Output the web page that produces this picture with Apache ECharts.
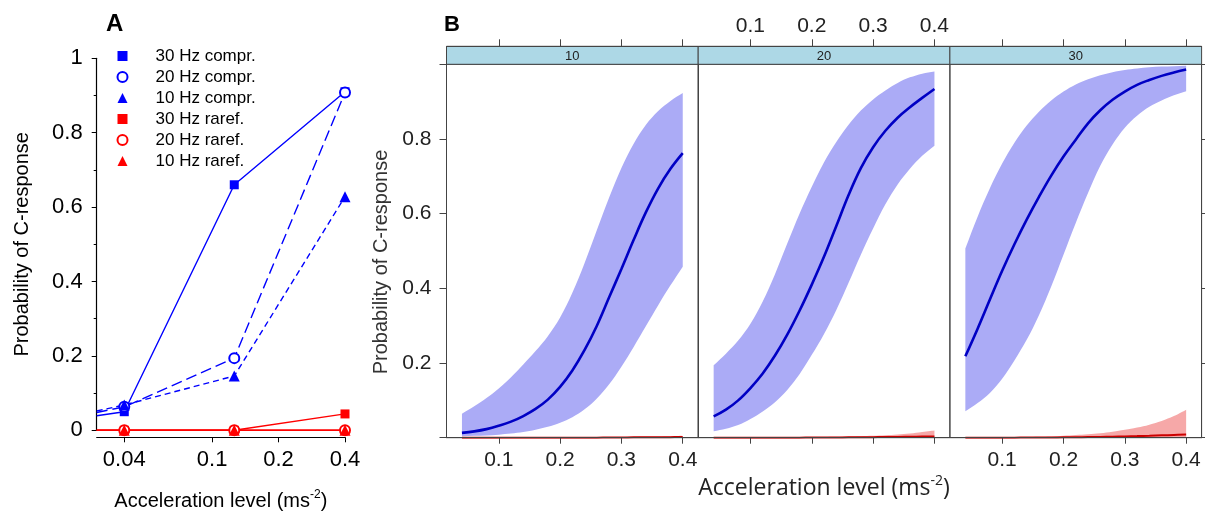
<!DOCTYPE html>
<html><head><meta charset="utf-8">
<script src="https://cdn.jsdelivr.net/npm/echarts@6/dist/echarts.min.js"></script>
<style>html,body{margin:0;padding:0;background:#fff}#c{width:1205px;height:513px}</style>
</head><body><div id="c"></div>
<script>
// ---------- Panel A data ----------
const accA = [0.03, 0.04, 0.126, 0.4];          // first entry = line start at left edge
const comp30 = [0.039, 0.050, 0.660, 0.910];
const comp20 = [0.048, 0.063, 0.194, 0.908];
const comp10 = [0.052, 0.068, 0.146, 0.628];
const raref30 = [0, 0, 0, 0.044];
const raref20 = [0, 0, 0, 0];
const raref10 = [0, 0, 0, 0];
const ticksA = [0.04, 0.1, 0.2, 0.4];

// ---------- Panel B data ----------
const facetLabels = ['10', '20', '30'];
const ticksB = [0.1, 0.2, 0.3, 0.4];
const accB = [0.04,0.06,0.08,0.10,0.12,0.14,0.16,0.18,0.20,0.22,0.24,0.26,0.28,0.30,0.32,0.34,0.36,0.38,0.40];
const fit10 = [0.013,0.017,0.023,0.032,0.043,0.058,0.077,0.102,0.136,0.180,0.235,0.300,0.376,0.452,0.530,0.604,0.668,0.720,0.762];
const lo10  = [0.004,0.005,0.006,0.008,0.011,0.015,0.021,0.029,0.040,0.055,0.076,0.105,0.143,0.190,0.243,0.299,0.355,0.408,0.458];
const hi10  = [0.064,0.084,0.106,0.132,0.162,0.196,0.232,0.272,0.322,0.388,0.468,0.556,0.643,0.722,0.787,0.838,0.875,0.902,0.923];
const fit20 = [0.057,0.075,0.100,0.133,0.172,0.220,0.276,0.340,0.410,0.485,0.567,0.650,0.722,0.778,0.822,0.857,0.885,0.910,0.934];
const lo20  = [0.017,0.024,0.034,0.050,0.070,0.095,0.128,0.170,0.222,0.278,0.342,0.415,0.490,0.560,0.625,0.678,0.720,0.755,0.782];
const hi20  = [0.194,0.225,0.260,0.305,0.365,0.438,0.520,0.600,0.672,0.738,0.792,0.838,0.876,0.906,0.930,0.950,0.965,0.975,0.981];
const fit30 = [0.218,0.292,0.370,0.447,0.518,0.584,0.645,0.702,0.753,0.798,0.842,0.877,0.905,0.927,0.945,0.958,0.969,0.978,0.986];
const lo30  = [0.071,0.093,0.120,0.158,0.207,0.262,0.328,0.405,0.490,0.575,0.655,0.728,0.785,0.830,0.862,0.886,0.903,0.917,0.928];
const hi30  = [0.507,0.592,0.668,0.734,0.790,0.836,0.873,0.903,0.927,0.946,0.960,0.971,0.979,0.985,0.989,0.992,0.994,0.995,0.996];
const rfit10 = [0,0,0,0,0,0,0,0,0,0,0,0,0.0005,0.0005,0.001,0.001,0.001,0.0015,0.002];
const rhi10  = [0.001,0.001,0.001,0.001,0.001,0.001,0.001,0.001,0.001,0.001,0.0015,0.0015,0.002,0.002,0.0025,0.003,0.0035,0.004,0.005];
const rfit20 = [0,0,0,0,0,0,0,0,0.0005,0.0005,0.0005,0.001,0.001,0.0015,0.002,0.002,0.0025,0.003,0.0035];
const rhi20  = [0.0005,0.0005,0.0005,0.0005,0.0005,0.0008,0.001,0.0012,0.0015,0.002,0.0025,0.003,0.004,0.005,0.0065,0.0085,0.011,0.015,0.019];
const rfit30 = [0,0,0,0,0.0002,0.0003,0.0005,0.0007,0.001,0.0013,0.0017,0.0022,0.0028,0.0035,0.0043,0.0052,0.0063,0.0075,0.0088];
const rhi30  = [0.0005,0.0006,0.0008,0.001,0.0013,0.0018,0.0025,0.0035,0.005,0.007,0.009,0.012,0.016,0.021,0.027,0.035,0.045,0.058,0.075];

const fits = [fit10, fit20, fit30], los = [lo10, lo20, lo30], his = [hi10, hi20, hi30];
const rfits = [rfit10, rfit20, rfit30], rhis = [rhi10, rhi20, rhi30];

// ---------- layout / style ----------
const F = 'Liberation Sans';
const B0 = 446.5, BW = 251.7, BT = 64.3, BH = 373.4, STRIP = 18;
const XMIN_B = 0.0148, XMAX_B = 0.4252;
const BLUE = '#0000ff', RED = '#ff0000';
const BAND_BLUE = '#ababf6', BAND_RED = '#f6a8a8';
const FIT_BLUE = '#0000c4', FIT_RED = '#cc0000';

function seriesA(name, ys, symbol, size, color, dash) {
  return {
    type: 'line', name, xAxisIndex: 0, yAxisIndex: 0,
    data: accA.map((x, i) => i === 0 ? { value: [x, ys[i]], symbol: 'none' } : [x, ys[i]]),
    symbol, symbolSize: size, showAllSymbol: true,
    lineStyle: { color, width: 1.4, type: dash },
    itemStyle: { color, borderColor: color, borderWidth: symbol === 'emptyCircle' ? 1.5 : 0 },
    z: 3
  };
}

const series = [
  seriesA('30 Hz compr.', comp30, 'rect', 9, BLUE, 'solid'),
  seriesA('20 Hz compr.', comp20, 'emptyCircle', 10, BLUE, [11, 5]),
  seriesA('10 Hz compr.', comp10, 'triangle', 11, BLUE, [6, 4]),
  seriesA('30 Hz raref.', raref30, 'rect', 9, RED, 'solid'),
  seriesA('20 Hz raref.', raref20, 'emptyCircle', 10, RED, 'solid'),
  seriesA('10 Hz raref.', raref10, 'triangle', 11, RED, 'solid')
];

facetLabels.forEach((lab, i) => {
  const lo = los[i], hi = his[i];
  series.push({
    type: 'custom', coordinateSystem: 'cartesian2d', xAxisIndex: 1 + i, yAxisIndex: 1 + i,
    data: [[accB[0], lo[0]]], encode: { x: 0, y: 1 }, silent: true, z: 2,
    renderItem: (params, api) => {
      const up = accB.map((x, k) => api.coord([x, hi[k]]));
      const dn = accB.map((x, k) => api.coord([x, lo[k]])).reverse();
      const pts = [up[0], ...up, up[up.length - 1], dn[0], ...dn, dn[dn.length - 1]];
      return { type: 'polygon', shape: { points: pts, smooth: 0.35 }, style: { fill: BAND_BLUE } };
    }
  });
  series.push({
    type: 'line', xAxisIndex: 1 + i, yAxisIndex: 1 + i, silent: true,
    data: accB.map((x, k) => [x, rhis[i][k]]), smooth: 0.4, symbol: 'none',
    lineStyle: { opacity: 0 }, areaStyle: { color: BAND_RED, opacity: 1 }, z: 3
  });
  series.push({
    type: 'line', xAxisIndex: 1 + i, yAxisIndex: 1 + i, silent: true,
    data: accB.map((x, k) => [x, fits[i][k]]), smooth: 0.4, symbol: 'none',
    lineStyle: { color: FIT_BLUE, width: 2.6 }, z: 4
  });
  series.push({
    type: 'line', xAxisIndex: 1 + i, yAxisIndex: 1 + i, silent: true,
    data: accB.map((x, k) => [x, rfits[i][k]]), smooth: 0.4, symbol: 'none',
    lineStyle: { color: FIT_RED, width: 2 }, z: 5
  });
});

const grids = [{ left: 96.7, top: 58.3, width: 248.3, height: 372, outerBoundsMode: 'none' }];
facetLabels.forEach((lab, i) => grids.push({
  left: B0 + i * BW, top: BT, width: BW, height: BH, outerBoundsMode: 'none',
  show: true, borderColor: '#444', borderWidth: 1, backgroundColor: 'transparent'
}));

const xAxes = [{
  type: 'log', logBase: 10, gridIndex: 0, min: 0.03, max: 0.4, offset: 7,
  axisLine: { show: true, onZero: false, lineStyle: { color: '#000', width: 1.2 } },
  axisTick: { show: true, inside: false, length: 5, customValues: ticksA, lineStyle: { color: '#000' } },
  axisLabel: { customValues: ticksA, fontSize: 22, color: '#000', fontFamily: F, margin: 12,
               formatter: v => String(+(+v).toPrecision(2)) },
  minorTick: { show: false }, splitLine: { show: false },
  name: '{t|Acceleration level (ms}{s|-2}{t|)}', nameLocation: 'middle', nameGap: 51,
  nameTextStyle: { rich: {
    t: { fontSize: 20, fontFamily: F, color: '#000', lineHeight: 26 },
    s: { fontSize: 12, fontFamily: F, color: '#000', verticalAlign: 'top', lineHeight: 14 } } }
}];
facetLabels.forEach((lab, i) => xAxes.push({
  type: 'value', gridIndex: 1 + i, min: XMIN_B, max: XMAX_B, position: 'bottom', z: 6,
  axisLine: { show: true, onZero: false, lineStyle: { color: '#444' } },
  axisTick: { show: true, inside: false, length: 6, customValues: ticksB, lineStyle: { color: '#444' } },
  axisLabel: { show: i !== 1, customValues: ticksB, margin: 12, fontSize: 21, color: '#222', fontFamily: F,
               formatter: v => (+v).toFixed(1) },
  splitLine: { show: false },
  name: i === 1 ? '{t|Acceleration level (ms}{s|-2}{t|)}' : '', nameLocation: 'middle', nameGap: 36,
  nameTextStyle: { rich: {
    t: { fontSize: 23, fontFamily: 'Open Sans', color: '#222', lineHeight: 30 },
    s: { fontSize: 14, fontFamily: 'Open Sans', color: '#222', verticalAlign: 'top', lineHeight: 16 } } }
}));
facetLabels.forEach((lab, i) => xAxes.push({
  type: 'value', gridIndex: 1 + i, min: XMIN_B, max: XMAX_B, position: 'top', offset: STRIP, z: 12,
  axisLine: { show: true, onZero: false, lineStyle: { color: '#444' } },
  axisTick: { show: true, inside: false, length: 7, customValues: ticksB, lineStyle: { color: '#444' } },
  axisLabel: { show: i === 1, customValues: ticksB, margin: 10, fontSize: 21, color: '#222', fontFamily: F,
               formatter: v => (+v).toFixed(1) },
  splitLine: { show: false }
}));

const yAxes = [{
  type: 'value', gridIndex: 0, min: 0, max: 1, interval: 0.2,
  axisLine: { show: true, onZero: false, lineStyle: { color: '#000', width: 1.2 } },
  axisTick: { show: true, length: 5, lineStyle: { color: '#000' } },
  minorTick: { show: true, splitNumber: 2, length: 3, lineStyle: { color: '#000' } },
  axisLabel: { fontSize: 22, color: '#000', fontFamily: F, margin: 14, formatter: v => String(+(+v).toFixed(1)) },
  splitLine: { show: false },
  name: 'Probability of C-response', nameLocation: 'middle', nameRotate: 90, nameGap: 64,
  nameTextStyle: { fontSize: 20, color: '#000', fontFamily: F }
}];
facetLabels.forEach((lab, i) => yAxes.push({
  type: 'value', gridIndex: 1 + i, min: 0, max: 1, interval: 0.2, position: i === 2 ? 'right' : 'left', z: 6,
  axisLine: { show: true, onZero: false, lineStyle: { color: '#444' } },
  axisTick: { show: i !== 1, inside: false, length: 7, lineStyle: { color: '#444' } },
  axisLabel: { show: i === 0, margin: 15, fontSize: 21, color: '#222', fontFamily: F,
               formatter: v => (v <= 0 || v >= 1) ? '' : (+v).toFixed(1) },
  splitLine: { show: false },
  name: i === 0 ? 'Probability of C-response' : '', nameLocation: 'middle', nameRotate: 90, nameGap: 55,
  nameTextStyle: { fontSize: 20, color: '#333', fontFamily: F, padding: [0, 22, 0, 0] }
}));

const graphics = [];
facetLabels.forEach((lab, i) => {
  graphics.push({ type: 'rect', z: 1, silent: true,
    shape: { x: B0 + i * BW, y: BT - STRIP, width: BW, height: STRIP },
    style: { fill: '#add8e6', stroke: '#444', lineWidth: 1 } });
  graphics.push({ type: 'text', z: 11, silent: true, x: B0 + i * BW + BW / 2, y: BT - STRIP / 2 + 1,
    style: { text: lab, font: '13px ' + F, fill: '#222', align: 'center', verticalAlign: 'middle',
             textAlign: 'center', textVerticalAlign: 'middle' } });
});

const option = {
  animation: false,
  backgroundColor: '#fff',
  textStyle: { fontFamily: F },
  title: [
    { text: 'A', left: 106, top: 12, padding: 0, textStyle: { fontSize: 24, fontWeight: 'bold', color: '#000', fontFamily: F } },
    { text: 'B', left: 444, top: 14, padding: 0, textStyle: { fontSize: 22, fontWeight: 'bold', color: '#000', fontFamily: F } }
  ],
  legend: {
    orient: 'vertical', left: 116.5, top: 46.5, padding: 0, itemGap: 2, itemWidth: 10, itemHeight: 10,
    selectedMode: false,
    textStyle: { fontSize: 17, fontFamily: F, color: '#000', lineHeight: 19, padding: [0, 0, 0, 23] },
    data: [
      { name: '30 Hz compr.', icon: 'rect' }, { name: '20 Hz compr.', icon: 'emptyCircle' },
      { name: '10 Hz compr.', icon: 'triangle' }, { name: '30 Hz raref.', icon: 'rect' },
      { name: '20 Hz raref.', icon: 'emptyCircle' }, { name: '10 Hz raref.', icon: 'triangle' }
    ]
  },
  grid: grids, xAxis: xAxes, yAxis: yAxes, graphic: graphics, series
};

const chart = echarts.init(document.getElementById('c'), null, { renderer: 'canvas' });
chart.setOption(option);
</script></body></html>
